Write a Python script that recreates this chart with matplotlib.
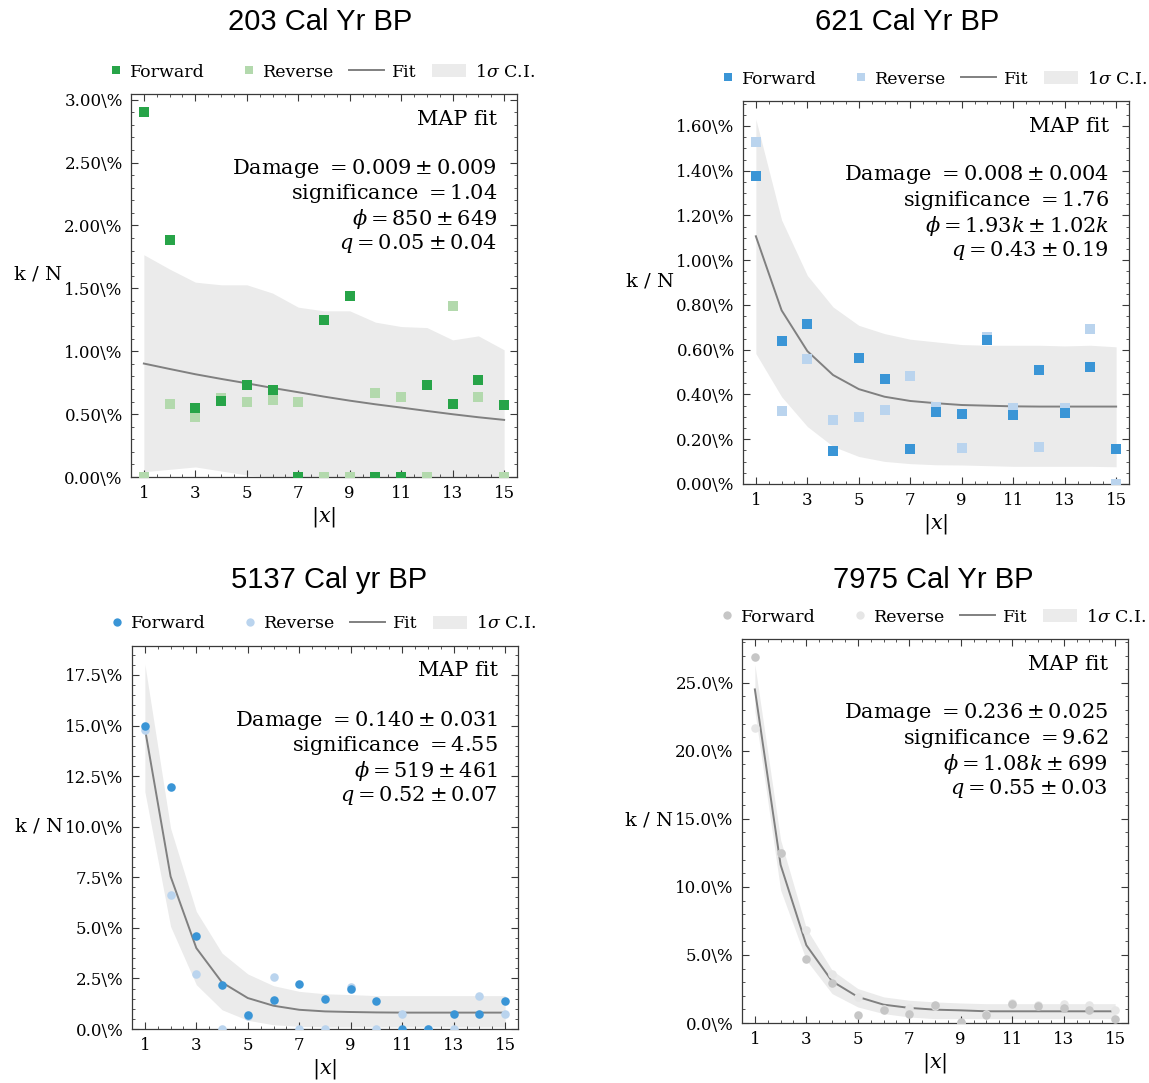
import matplotlib
matplotlib.use("Agg")
import matplotlib.pyplot as plt
from matplotlib.ticker import MultipleLocator, AutoMinorLocator, FuncFormatter
from matplotlib.patches import Patch
from matplotlib.lines import Line2D
from matplotlib.legend_handler import HandlerLine2D
import numpy as np

plt.rcParams["font.family"] = ["DejaVu Serif"]
plt.rcParams["mathtext.fontset"] = "dejavuserif"

# read positions |x|
x = np.arange(1, 16)

# --- 203 Cal Yr BP (values in %) ---
fwd_203 = [2.90, 1.886, 0.546, 0.607, 0.729, 0.692, 0.0, 1.249, 1.440, 0.0, 0.0, 0.729, 0.584, 0.769, 0.573]
rev_203 = [0.0, 0.581, 0.480, 0.626, 0.597, 0.613, 0.600, 0.0, 0.0, 0.666, 0.634, 0.0, 1.361, 0.637, 0.0]
fit_203 = [0.902, 0.859, 0.817, 0.780, 0.745, 0.708, 0.674, 0.639, 0.607, 0.578, 0.552, 0.525, 0.499, 0.475, 0.454]
hi_203 = [1.767, 1.653, 1.549, 1.528, 1.528, 1.462, 1.350, 1.321, 1.321, 1.231, 1.196, 1.188, 1.090, 1.122, 1.011]
lo_203 = [0.042, 0.061, 0.080, 0.048, 0.016, 0.0, 0.0, 0.0, 0.0, 0.0, 0.0, 0.0, 0.0, 0.0, 0.0]

# --- 621 Cal Yr BP ---
fwd_621 = [1.376, 0.638, 0.717, 0.148, 0.561, 0.469, 0.156, 0.321, 0.312, 0.643, 0.309, 0.509, 0.316, 0.524, 0.156]
rev_621 = [1.530, 0.325, 0.560, 0.288, 0.301, 0.331, 0.481, 0.346, 0.162, 0.655, 0.338, 0.165, 0.341, 0.692, 0.0]
fit_621 = [1.107, 0.776, 0.594, 0.487, 0.424, 0.390, 0.371, 0.361, 0.353, 0.350, 0.347, 0.346, 0.346, 0.346, 0.346]
hi_621 = [1.630, 1.180, 0.932, 0.791, 0.709, 0.672, 0.647, 0.635, 0.623, 0.620, 0.620, 0.620, 0.617, 0.620, 0.613]
lo_621 = [0.583, 0.390, 0.257, 0.168, 0.123, 0.101, 0.091, 0.086, 0.085, 0.082, 0.079, 0.079, 0.079, 0.079, 0.077]

# --- 5137 Cal yr BP ---
fwd_5137 = [14.98, 11.97, 4.61, 2.19, 0.71, 1.42, 2.22, 1.46, 1.97, 1.38, 0.0, 0.0, 0.72, 0.72, 1.38]
rev_5137 = [14.78, 6.60, 2.72, 0.0, 0.66, 2.55, 0.0, 0.0, 2.07, 0.0, 0.72, 0.0, 0.0, 1.61, 0.74]
fit_5137 = [14.86, 7.54, 4.00, 2.30, 1.53, 1.15, 0.95, 0.87, 0.84, 0.82, 0.81, 0.81, 0.81, 0.81, 0.81]
hi_5137 = [18.03, 9.92, 5.81, 3.75, 2.72, 2.14, 1.86, 1.74, 1.70, 1.65, 1.65, 1.65, 1.65, 1.65, 1.65]
lo_5137 = [11.73, 5.07, 2.19, 0.95, 0.43, 0.21, 0.13, 0.10, 0.10, 0.10, 0.10, 0.10, 0.10, 0.10, 0.10]

# --- 7975 Cal Yr BP ---
fwd_7975 = [26.87, 12.52, 4.72, 2.97, 0.56, 0.93, 0.69, 1.30, 0.07, 0.61, 1.38, 1.25, 1.13, 0.93, 0.32]
rev_7975 = [21.68, 12.52, 6.83, 3.63, 1.92, 1.06, 1.13, 1.23, 0.0, 0.69, 1.47, 1.30, 1.38, 1.35, 0.93]
fit_7975 = [24.51, 11.62, 5.72, 3.07, 1.92, 1.35, 1.11, 0.98, 0.93, 0.86, 0.86, 0.86, 0.86, 0.86, 0.86]
hi_7975 = [26.35, 13.46, 6.95, 3.88, 2.53, 1.92, 1.67, 1.55, 1.47, 1.42, 1.42, 1.42, 1.42, 1.42, 1.42]
lo_7975 = [22.91, 9.77, 4.62, 2.16, 1.18, 0.69, 0.44, 0.32, 0.32, 0.32, 0.32, 0.32, 0.32, 0.32, 0.32]

titles = ["203 Cal Yr BP", "621 Cal Yr BP", "5137 Cal yr BP", "7975 Cal Yr BP"]
fit_lines = [
    ["Damage $= 0.009 \\pm 0.009$", "significance $= 1.04$",
     "$\\phi = 850 \\pm 649$", "$q = 0.05 \\pm 0.04$"],
    ["Damage $= 0.008 \\pm 0.004$", "significance $= 1.76$",
     "$\\phi = 1.93k \\pm 1.02k$", "$q = 0.43 \\pm 0.19$"],
    ["Damage $= 0.140 \\pm 0.031$", "significance $= 4.55$",
     "$\\phi = 519 \\pm 461$", "$q = 0.52 \\pm 0.07$"],
    ["Damage $= 0.236 \\pm 0.025$", "significance $= 9.62$",
     "$\\phi = 1.08k \\pm 699$", "$q = 0.55 \\pm 0.03$"],
]

panels = [
    dict(fwd=fwd_203, rev=rev_203, fit=fit_203, hi=hi_203, lo=lo_203,
         c_fwd="#27a448", c_rev="#b3d9ad", marker="s", step=0.5, dec=2,
         rect=[131, 94, 517, 477], title_xy=(320, 22)),
    dict(fwd=fwd_621, rev=rev_621, fit=fit_621, hi=hi_621, lo=lo_621,
         c_fwd="#3a95d6", c_rev="#bad4ee", marker="s", step=0.2, dec=2,
         rect=[743, 101, 1129, 484], title_xy=(907, 22)),
    dict(fwd=fwd_5137, rev=rev_5137, fit=fit_5137, hi=hi_5137, lo=lo_5137,
         c_fwd="#3a95d6", c_rev="#bad4ee", marker="o", step=2.5, dec=1,
         rect=[132, 646, 518, 1029], title_xy=(329, 580)),
    dict(fwd=fwd_7975, rev=rev_7975, fit=fit_7975, hi=hi_7975, lo=lo_7975,
         c_fwd="#c6c6c6", c_rev="#e6e6e6", marker="o", step=5.0, dec=1,
         rect=[742, 639, 1128, 1023], title_xy=(933, 580)),
]


class RightMarkerHandler(HandlerLine2D):
    # put the legend marker near the text instead of in the middle of the handle
    def get_xdata(self, legend, xdescent, ydescent, width, height, fontsize):
        m = -xdescent + width - 0.3 * fontsize
        return [m - 1, m + 1], [m]


W, H = 1149, 1083
fig = plt.figure(figsize=(W / 100, H / 100), dpi=100)

band_color = "#ebebeb"
line_color = "#808080"
spine_color = "#3a3a3a"

for p, title, lines in zip(panels, titles, fit_lines):
    l, t, r, b = p["rect"]
    ax = fig.add_axes([l / W, 1 - b / H, (r - l) / W, (b - t) / H])

    ax.fill_between(x, p["lo"], p["hi"], color=band_color, lw=0, zorder=1)
    ax.plot(x, p["fit"], color=line_color, lw=1.4, zorder=2)
    msize = 42 if p["marker"] == "s" else 38
    ax.scatter(x, p["rev"], s=msize, marker=p["marker"], color=p["c_rev"],
               lw=0, zorder=3)
    ax.scatter(x, p["fwd"], s=msize, marker=p["marker"], color=p["c_fwd"],
               lw=0, zorder=4)

    top = 1.05 * max(max(p["fwd"]), max(p["rev"]), max(p["hi"]))
    ax.set_ylim(0, top)
    ax.set_xlim(0.5, 15.5)
    ax.set_xticks(np.arange(1, 16, 2))
    ax.xaxis.set_minor_locator(AutoMinorLocator())
    ax.yaxis.set_major_locator(MultipleLocator(p["step"]))
    ax.yaxis.set_minor_locator(AutoMinorLocator())
    dec = p["dec"]
    ax.yaxis.set_major_formatter(FuncFormatter(lambda v, pos, d=dec: f"{v:.{d}f}\\%"))

    ax.tick_params(which="both", direction="in", top=True, right=True,
                   color=spine_color, labelsize=12)
    ax.tick_params(which="major", length=5, width=0.8, pad=6)
    ax.tick_params(which="minor", length=2.5, width=0.6)
    for s in ax.spines.values():
        s.set_color(spine_color)
        s.set_linewidth(0.9)

    ax.set_xlabel("$|x|$", fontsize=15)
    ax.xaxis.set_label_coords(0.5, -40 / (b - t))
    ax.xaxis.label.set_va("center")
    ax.set_ylabel("k / N", fontsize=14, rotation=0, ha="center", va="center")
    ax.yaxis.set_label_coords(-0.242, 0.528)

    # fit summary, right-aligned in the upper corner
    ax.annotate("MAP fit", xy=(1, 1), xycoords="axes fraction",
                xytext=(-20, -25), textcoords="offset pixels",
                ha="right", va="center", fontsize=15)
    for i, txt in enumerate(lines):
        ax.annotate(txt, xy=(1, 1), xycoords="axes fraction",
                    xytext=(-20, -74 - 25.3 * i), textcoords="offset pixels",
                    ha="right", va="center", fontsize=15)

    h_fwd = Line2D([], [], ls="none", marker=p["marker"], markersize=6,
                   markerfacecolor=p["c_fwd"], markeredgewidth=0)
    h_rev = Line2D([], [], ls="none", marker=p["marker"], markersize=6,
                   markerfacecolor=p["c_rev"], markeredgewidth=0)
    handles = [h_fwd, h_rev,
               Line2D([], [], color=line_color, lw=1.4),
               Patch(facecolor=band_color, edgecolor="none")]
    ax.legend(handles, ["Forward", "Reverse", "Fit", "$1\\sigma$ C.I."],
              loc="center left", bbox_to_anchor=(-0.115, 1 + 22 / (b - t)),
              ncol=4, frameon=False, fontsize=12.5, handlelength=2.0,
              handletextpad=0.5, columnspacing=0.85, borderpad=0,
              borderaxespad=0,
              handler_map={h_fwd: RightMarkerHandler(),
                           h_rev: RightMarkerHandler()})

    fig.text(p["title_xy"][0] / W, 1 - p["title_xy"][1] / H, title,
             ha="center", va="center", fontsize=21, family="Liberation Sans")

fig.savefig("out.png", dpi=100, facecolor="white")
